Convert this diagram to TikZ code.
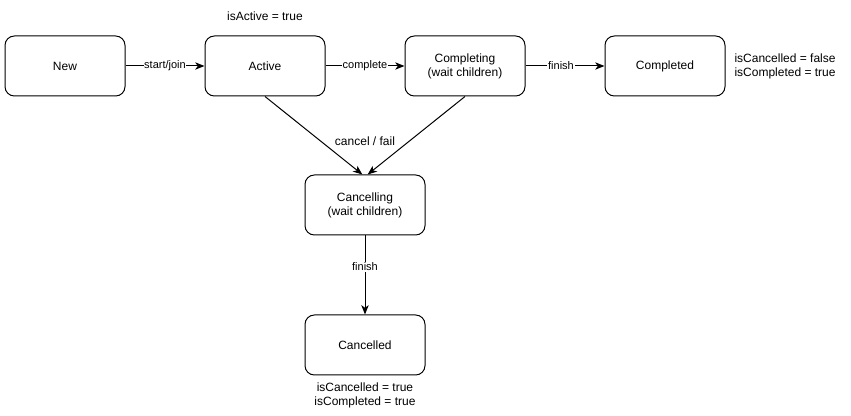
\documentclass[tikz,border=0pt]{standalone}
\usepackage{fontspec}
\setmainfont{Liberation Sans}
\usepackage{tikz}
\usetikzlibrary{shapes,positioning,arrows.meta}
\tikzset{st/.style={rectangle,rounded corners=7pt,draw,minimum height=45pt,minimum width=90pt,inner sep=0pt,align=center,font=\fontsize{9}{10.5}\selectfont},
lab/.style={fill=white,inner sep=0.5pt,font=\fontsize{8.25}{9.5}\selectfont},
txt/.style={align=center,inner sep=0pt,font=\fontsize{9}{10.5}\selectfont}}

\begin{document}
\begin{tikzpicture}[>={Stealth[length=7pt,width=5.5pt,inset=2pt]},line width=0.75pt,x=0.75pt,y=-0.75pt]
    \useasboundingbox (0,0) rectangle (851,416);
    \node[st] (a) at (65,66) {New};
    \node[st] (b) at (265,66) {Active};
    \node[st] (c) at (465,66) {Completing\\(wait children)};
    \node[st] (d) at (665,66) {Completed};
    \node[st] (e) at (365,205) {Cancelling\\(wait children)};
    \node[st] (f) at (365,345) {Cancelled};

    \node[txt] (ta) at (265,16) {isActive = true};
    \node[txt,anchor=west,align=left] (td) at (734,66) {isCancelled = false\\isCompleted = true};
    \node[txt] (tf) at (365,395) {isCancelled = true\\isCompleted = true};
    \node[txt] (tc) at (365,141) {cancel / fail};

    \draw [->] (a) to []node[lab]{start/join} (b);
    \draw [->] (b) to []node[lab]{complete} (c);
    \draw [->] (c) to []node[lab,xshift=-3pt]{finish} (d);
    \draw [->] (b.south) to [] ([xshift=-2pt]e.north);
    \draw [->] (c.south) to [] ([xshift=2pt]e.north);
    \draw [->] (e) to []node[lab,yshift=6pt]{finish} (f);
\end{tikzpicture}
\end{document}
